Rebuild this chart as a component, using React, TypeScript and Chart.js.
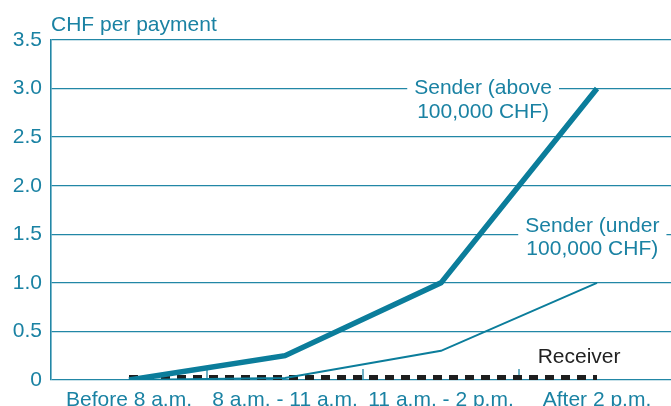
import React, { useEffect, useRef } from "react";
import { Chart, registerables } from "chart.js";

Chart.register(...registerables);

// ---- data ----
const categories = ["Before 8 a.m.", "8 a.m. - 11 a.m.", "11 a.m. - 2 p.m.", "After 2 p.m."];
const senderAbove = [0, 0.25, 1.0, 3.0];
const senderUnder = [0, 0.02, 0.3, 1.0];
const receiver = [0.025, 0.025, 0.025, 0.025];
const yTickLabels = ["0", "0.5", "1.0", "1.5", "2.0", "2.5", "3.0", "3.5"];
const yTitle = "CHF per payment";

// annotation labels: text lines, anchor in data space (category index, value)
const labelAboveLines = ["Sender (above", "100,000 CHF)"];
const labelAboveAnchor = [2.27, 3.0];
const labelUnderLines = ["Sender (under", "100,000 CHF)"];
const labelUnderAnchor = [2.97, 1.585];
const labelReceiverLines = ["Receiver"];
const labelReceiverAnchor = [2.885, 0.237];

const TEAL = "#0b7d9b";
const GRID = "#2287a6";
const TEXT = "#1a82a3";
const FONT = "'Liberation Sans', Arial, Helvetica, sans-serif";

const annotations = [
  { lines: labelAboveLines, at: labelAboveAnchor, color: TEXT, box: true },
  { lines: labelUnderLines, at: labelUnderAnchor, color: TEXT, box: true },
  { lines: labelReceiverLines, at: labelReceiverAnchor, color: "#222222", box: false },
];

const decorPlugin = {
  id: "decor",
  beforeDatasetsDraw(chart: any) {
    const ctx = chart.ctx;
    const xs = chart.scales.x;
    const ys = chart.scales.y;
    const area = chart.chartArea;
    ctx.save();
    // small tick marks at category boundaries
    ctx.strokeStyle = GRID;
    ctx.lineWidth = 1.3;
    for (let i = 0; i < categories.length - 1; i++) {
      const px = (xs.getPixelForValue(i) + xs.getPixelForValue(i + 1)) / 2;
      ctx.beginPath();
      ctx.moveTo(px, area.bottom);
      ctx.lineTo(px, area.bottom - 11);
      ctx.stroke();
    }
    // title
    ctx.font = `21px ${FONT}`;
    ctx.fillStyle = TEXT;
    ctx.textAlign = "left";
    ctx.textBaseline = "alphabetic";
    ctx.fillText(yTitle, area.left, area.top - 9);
    // annotations
    const lh = 23.5;
    for (const a of annotations) {
      const cx = xs.getPixelForValue(a.at[0]);
      const cy = ys.getPixelForValue(a.at[1]);
      ctx.font = `21px ${FONT}`;
      const w = Math.max(...a.lines.map((l: string) => ctx.measureText(l).width));
      if (a.box) {
        ctx.fillStyle = "#ffffff";
        ctx.fillRect(cx - w / 2 - 7, cy - 12, w + 14, lh * a.lines.length);
      }
      ctx.fillStyle = a.color;
      ctx.textAlign = "center";
      ctx.textBaseline = "middle";
      a.lines.forEach((l: string, i: number) => ctx.fillText(l, cx, cy + i * lh));
    }
    ctx.restore();
  },
};

export default function App() {
  const ref = useRef<HTMLCanvasElement | null>(null);
  useEffect(() => {
    if (!ref.current) return;
    const chart = new Chart(ref.current, {
      type: "line",
      data: {
        labels: categories,
        datasets: [
          {
            data: senderUnder,
            borderColor: TEAL,
            borderWidth: 2,
            pointRadius: 0,
            tension: 0,
          },
          {
            data: senderAbove,
            borderColor: TEAL,
            borderWidth: 5.5,
            pointRadius: 0,
            tension: 0,
          },
          {
            data: receiver,
            borderColor: "#1e1e1e",
            borderWidth: 5,
            borderDash: [9, 7],
            borderCapStyle: "butt",
            pointRadius: 0,
            tension: 0,
            clip: false,
          },
        ],
      },
      options: {
        animation: false,
        responsive: false,
        devicePixelRatio: 1,
        layout: { padding: { top: 40, right: 5, left: 0, bottom: 0 } },
        plugins: { legend: { display: false }, tooltip: { enabled: false } },
        scales: {
          x: {
            offset: true,
            grid: { display: false },
            border: { display: false },
            ticks: {
              color: TEXT,
              font: { size: 21, family: FONT },
              padding: 0,
              maxRotation: 0,
              autoSkip: false,
            },
            afterFit: (s: any) => {
              s.height = 40;
            },
          },
          y: {
            min: 0,
            max: 3.5,
            grid: { color: GRID, lineWidth: 1.3, drawTicks: false },
            border: { display: true, color: GRID, width: 1.6 },
            ticks: {
              stepSize: 0.5,
              color: TEXT,
              font: { size: 21, family: FONT },
              padding: 9,
              callback: (_v: any, i: number) => yTickLabels[i],
            },
            afterFit: (s: any) => {
              s.width = 51;
            },
          },
        },
      },
      plugins: [decorPlugin],
    });
    return () => chart.destroy();
  }, []);
  return (
    <div style={{ position: "absolute", left: 0, top: 0, width: 671, height: 406, overflow: "hidden", background: "#fff" }}>
      <canvas ref={ref} width={680} height={420} style={{ display: "block" }} />
    </div>
  );
}
